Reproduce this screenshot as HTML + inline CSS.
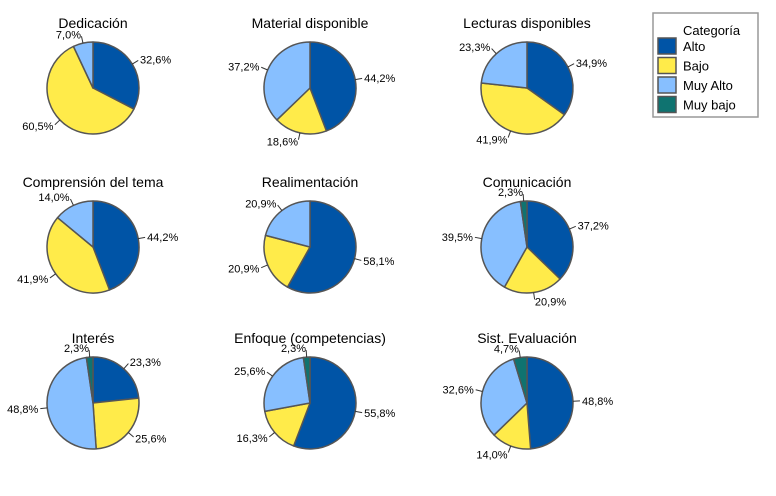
<!DOCTYPE html>
<html><head><meta charset="utf-8"><style>
body{margin:0;background:#fff;width:776px;height:491px;overflow:hidden;font-family:"Liberation Sans",sans-serif}
</style></head><body>
<svg id="chart" width="776" height="491" xmlns="http://www.w3.org/2000/svg">
<g>
<rect x="653" y="13" width="105" height="104" fill="#fff" stroke="#999" stroke-width="1.5"/>
<text x="683" y="35" font-size="13" fill="#000">Categoría</text>
<g id="legendItems"></g>
</g>
</svg>
<script>
const titles=["Dedicación","Material disponible","Lecturas disponibles","Comprensión del tema","Realimentación","Comunicación","Interés","Enfoque (competencias)","Sist. Evaluación"];
const categories=["Alto","Bajo","Muy Alto","Muy bajo"];
const alto=[32.6,44.2,34.9,44.2,58.1,37.2,23.3,55.8,48.8];
const bajo=[60.5,18.6,41.9,41.9,20.9,20.9,25.6,16.3,14.0];
const muyAlto=[7.0,37.2,23.3,14.0,20.9,39.5,48.8,25.6,32.6];
const muyBajo=[0,0,0,0,0,2.3,2.3,2.3,4.7];
const colors=["#0054A6","#FFEB4A","#87BFFF","#0F7370"];
const NS="http://www.w3.org/2000/svg";
const svg=document.getElementById('chart');
function mk(t,a,p){const e=document.createElementNS(NS,t);for(const k in a)e.setAttribute(k,a[k]);(p||svg).appendChild(e);return e;}
const cx=[93,310,527],cy=[88,247,403],R=46;
const lg=document.getElementById('legendItems');
categories.forEach((c,i)=>{
  const r=mk('rect',{x:658,y:38+i*19.5,width:18,height:16,fill:colors[i],stroke:'#555','stroke-width':1.5},lg);
  
  
  const t=mk('text',{x:683,y:51+i*19.5,'font-size':13,fill:'#000'},lg);t.textContent=c;
  
  
});
function pt(x,y,r,a){return [x+r*Math.sin(a),y-r*Math.cos(a)];}
titles.forEach((title,k)=>{
  const x=cx[k%3],y=cy[Math.floor(k/3)];
  const g=mk('g',{});
  
  
  const tt=mk('text',{x:x,y:y-60,'text-anchor':'middle','font-size':14,fill:'#000'},g);tt.textContent=title;
  
  
  const vals=[alto[k],bajo[k],muyAlto[k],muyBajo[k]];
  const tot=vals.reduce((a,b)=>a+b,0);
  let a0=0;
  vals.forEach((v,i)=>{
    if(v<=0)return;
    const a1=a0+v/tot*2*Math.PI;
    const p0=pt(x,y,R,a0),p1=pt(x,y,R,a1);
    const big=(a1-a0)>Math.PI?1:0;
    const s=mk('path',{d:`M${x},${y}L${p0[0]},${p0[1]}A${R},${R} 0 ${big} 1 ${p1[0]},${p1[1]}Z`,fill:colors[i],stroke:'#555','stroke-width':1.5,'stroke-linejoin':'round'},g);
    
    
    const am=(a0+a1)/2;
    const e1=pt(x,y,R,am),e2=pt(x,y,R+7,am);
    mk('line',{x1:e1[0],y1:e1[1],x2:e2[0],y2:e2[1],stroke:'#333','stroke-width':1},g);
    const right=Math.sin(am)>=0;
    const lp=pt(x,y,R+9,am);
    const lab=mk('text',{x:lp[0]+(right?0:0),y:lp[1]+4,'text-anchor':right?'start':'end','font-size':11,fill:'#000'},g);
    lab.textContent=v.toFixed(1).replace('.',',')+'%';
    
    
    a0=a1;
  });
});
</script>
</body></html>
